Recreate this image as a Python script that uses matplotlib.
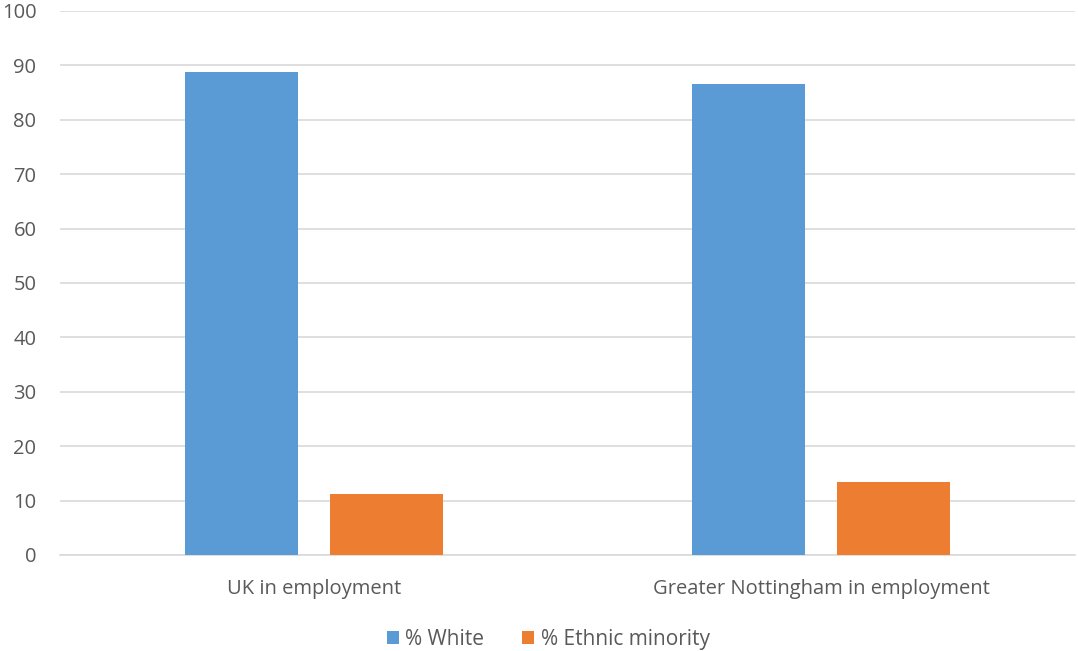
import numpy as np
import matplotlib.pyplot as plt

categories = ['UK in employment', 'Greater Nottingham in employment']
white = [88.8, 86.5]
minority = [11.2, 13.4]
series_names = ['% White', '% Ethnic minority']

plt.rcParams['font.family'] = ['Open Sans', 'DejaVu Sans']

fig = plt.figure(figsize=(10.78, 6.51), dpi=100)
ax = fig.add_axes([60 / 1078, 96 / 651, 1015 / 1078, 544 / 651])

x = np.arange(len(categories))
w = 0.223
off = 0.143
ax.bar(x - off, white, w, color='#5b9bd5', label=series_names[0], zorder=3)
ax.bar(x + off, minority, w, color='#ed7d31', label=series_names[1], zorder=3)

ax.set_xlim(-0.5, 1.5)
ax.set_ylim(0, 100)
ax.set_yticks(range(0, 101, 10))
ax.set_xticks(x)
ax.set_xticklabels(categories)
ax.yaxis.grid(True, color='#d9d9d9', linewidth=1.2, zorder=0)
for s in ['top', 'right', 'left']:
    ax.spines[s].set_visible(False)
ax.spines['bottom'].set_color('#d9d9d9')
ax.spines['bottom'].set_linewidth(1.2)
ax.tick_params(axis='both', length=0, labelsize=14.5, colors='#595959')
ax.tick_params(axis='y', pad=17)
ax.tick_params(axis='x', pad=17)

ax.legend(loc='center', bbox_to_anchor=(0.481, -0.155), ncol=2, frameon=False,
          fontsize=15, handlelength=0.6, handleheight=0.6, handletextpad=0.3,
          columnspacing=1.8, labelcolor='#595959')

plt.savefig('out.png', dpi=100)
